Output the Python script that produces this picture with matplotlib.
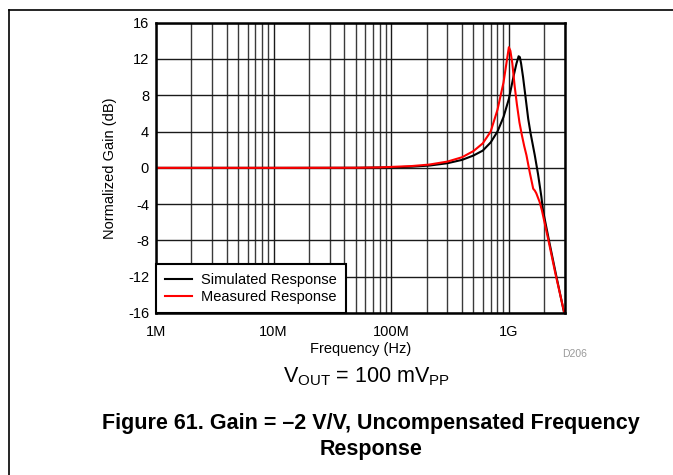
import matplotlib
matplotlib.use("Agg")
import matplotlib.pyplot as plt
from matplotlib.lines import Line2D

plt.rcParams['font.family'] = ['Liberation Sans', 'DejaVu Sans']

# Data (frequency in Hz, gain in dB)
sim_freq = [1e6, 1e7, 5e7, 1e8, 1.5e8, 2.13e8, 3e8, 4e8, 5e8, 6e8, 7e8, 8e8,
            9e8, 1.0e9, 1.1e9, 1.16e9, 1.21e9, 1.24e9, 1.27e9, 1.32e9, 1.41e9,
            1.46e9, 1.53e9, 1.66e9, 1.77e9, 1.89e9, 1.95e9, 2.2e9, 2.5e9, 2.95e9]
sim_gain = [0, 0, 0.01, 0.05, 0.13, 0.26, 0.51, 0.88, 1.36, 1.9, 2.8, 4.0,
            5.6, 7.6, 10.2, 11.5, 12.3, 12.2, 11.5, 10.0, 7.0,
            5.4, 3.8, 1.4, -0.7, -3.2, -4.7, -8.1, -11.6, -16.0]

meas_freq = [1e6, 1e7, 5e7, 8e7, 1.5e8, 2.1e8, 3e8, 4e8, 5e8, 6e8, 7e8, 8e8,
             9e8, 9.55e8, 1.0e9, 1.03e9, 1.07e9, 1.12e9, 1.17e9, 1.23e9, 1.29e9,
             1.35e9, 1.41e9, 1.51e9, 1.58e9, 1.61e9, 1.66e9, 1.71e9, 1.83e9,
             1.91e9, 2.17e9, 2.49e9, 2.95e9]
meas_gain = [0, 0, 0.01, 0.05, 0.2, 0.36, 0.69, 1.17, 1.85, 2.7, 4.0, 6.4,
             9.4, 11.6, 13.3, 12.9, 11.5, 9.0, 7.0, 5.0, 3.6,
             2.4, 1.4, -0.6, -1.8, -2.3, -2.5, -2.8, -3.8,
             -4.7, -8.0, -11.7, -15.9]

x_ticks = [1e6, 1e7, 1e8, 1e9]
x_tick_labels = ['1M', '10M', '100M', '1G']
y_ticks = [-16, -12, -8, -4, 0, 4, 8, 12, 16]
series_labels = ['Simulated Response', 'Measured Response']

fig = plt.figure(figsize=(6.73, 4.75), dpi=100)
ax = fig.add_axes([156/673, 1-313/475, (565-156)/673, (313-22.7)/475])

ax.plot(sim_freq, sim_gain, color='black', lw=1.5, label=series_labels[0], zorder=3)
ax.plot(meas_freq, meas_gain, color='#ff0000', lw=1.5, label=series_labels[1], zorder=4)

ax.set_xscale('log')
ax.set_xlim(1e6, 3e9)
ax.set_ylim(-16, 16)
ax.set_xticks(x_ticks)
ax.set_xticklabels(x_tick_labels)
ax.set_yticks(y_ticks)
ax.set_yticklabels([str(v) for v in y_ticks])
ax.tick_params(axis='both', which='both', length=0, labelsize=10.5)
ax.tick_params(axis='x', pad=9)
ax.tick_params(axis='y', pad=5)
ax.minorticks_on()
ax.yaxis.set_minor_locator(matplotlib.ticker.NullLocator())
ax.xaxis.set_minor_locator(matplotlib.ticker.LogLocator(base=10, subs=range(2, 10)))
ax.xaxis.set_minor_formatter(matplotlib.ticker.NullFormatter())
ax.grid(True, which='major', color='#1a1a1a', lw=1.0)
ax.grid(True, which='minor', axis='x', color='#3a3a3a', lw=1.0)
ax.set_axisbelow(True)
for s in ax.spines.values():
    s.set_linewidth(1.8)
    s.set_zorder(5)

ax.set_xlabel('Frequency (Hz)', fontsize=10.5, labelpad=2)
ax.set_ylabel('Normalized Gain (dB)', fontsize=10.5, labelpad=8)

leg = ax.legend(loc='lower left', bbox_to_anchor=(0, 0), borderaxespad=0,
                fancybox=False, framealpha=1, edgecolor='black', fontsize=10.5,
                handlelength=1.85, handletextpad=0.6, labelspacing=0.22,
                borderpad=0.62)
leg.get_frame().set_linewidth(1.5)
leg.set_zorder(6)

fig.text(575/673, 1-354/475, 'D206', fontsize=7.5, color='#999999', ha='center', va='center')
fig.text(367/673, 1-377/475, r'V$_{\mathregular{OUT}}$ = 100 mV$_{\mathregular{PP}}$',
         fontsize=15.5, ha='center', va='center')
fig.text(371/673, 1-424/475, 'Figure 61. Gain = \u20132 V/V, Uncompensated Frequency',
         fontsize=15.5, fontweight='bold', ha='center', va='center')
fig.text(371/673, 1-450/475, 'Response', fontsize=15.5, fontweight='bold',
         ha='center', va='center')

# outer frame: left and top lines
fig.add_artist(Line2D([8.5/673, 8.5/673], [0, 1-9.5/475], transform=fig.transFigure,
                      color='black', lw=1.2))
fig.add_artist(Line2D([8.5/673, 1], [1-9.5/475, 1-9.5/475], transform=fig.transFigure,
                      color='black', lw=1.2))

fig.savefig('out.png', dpi=100)
